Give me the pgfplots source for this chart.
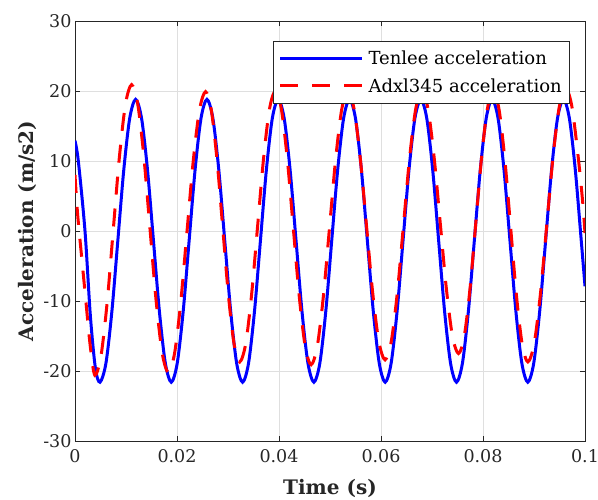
\documentclass[border=0pt]{standalone}
\usepackage{pgfplots}
\pgfplotsset{compat=1.18}
\usepackage{fontspec}
\setmainfont{DejaVu Serif}
\definecolor{axgray}{RGB}{38,38,38}
\definecolor{gridgray}{RGB}{223,223,223}
\begin{document}
\begin{tikzpicture}[x=1bp,y=1bp]
\useasboundingbox (0,0) rectangle (598,500);
\begin{axis}[
  at={(75bp,59bp)}, anchor=south west,
  scale only axis, width=510bp, height=420bp,
  xmin=0, xmax=0.1, ymin=-30, ymax=30,
  scaled x ticks=false, scaled y ticks=false,
  xtick={0,0.02,0.04,0.06,0.08,0.1},
  xticklabels={0,0.02,0.04,0.06,0.08,0.1},
  ytick={-30,-20,-10,0,10,20,30},
  yticklabels={-30,-20,-10,0,10,20,30},
  tick align=inside, tick pos=both,
  major tick length=5bp,
  tick style={axgray, line width=0.5bp},
  axis line style={axgray, line width=0.6bp},
  grid=major,
  major grid style={gridgray, line width=0.6bp},
  ticklabel style={font=\fontsize{17.5bp}{20bp}\selectfont, text=axgray},
  xticklabel style={yshift=-5bp},
  xlabel={Time (s)},
  ylabel={Acceleration (m/s2)},
  label style={font=\bfseries\fontsize{20bp}{24bp}\selectfont, text=axgray},
  xlabel style={at={(axis description cs:0.5,-0.112)}, anchor=center},
  ylabel style={at={(axis description cs:-0.094,0.5)}, anchor=center},
  legend style={at={(1,1)}, anchor=north east, xshift=-16bp, yshift=-20bp,
    draw=axgray, line width=0.5bp, fill=white,
    font=\fontsize{18bp}{21bp}\selectfont, text=black,
    inner xsep=5bp, inner ysep=8bp, row sep=8bp, column sep=3bp},
  legend cell align=left,
  legend image code/.code={\draw[#1] (0bp,0bp) -- (82bp,0bp);},
]
\addplot[blue, line width=3bp, smooth] coordinates {
(0,12.9) (0.00065,10.0) (0.00196,0.0) (0.0030,-12.0) (0.0040,-19.6) (0.0049,-21.6)
(0.006065,-18.89) (0.00723,-11.50) (0.008395,-1.40) (0.00956,8.70) (0.010725,16.09) (0.01189,18.8)
(0.013055,16.09) (0.01422,8.70) (0.015385,-1.40) (0.01655,-11.50) (0.017715,-18.89) (0.01888,-21.6)
(0.020045,-18.89) (0.02121,-11.50) (0.022375,-1.40) (0.02354,8.70) (0.024705,16.09) (0.02587,18.8)
(0.027035,16.09) (0.0282,8.70) (0.029365,-1.40) (0.03053,-11.50) (0.031695,-18.89) (0.03286,-21.6)
(0.034025,-18.89) (0.03519,-11.50) (0.036355,-1.40) (0.03752,8.70) (0.038685,16.09) (0.03985,18.8)
(0.041015,16.09) (0.04218,8.70) (0.043345,-1.40) (0.04451,-11.50) (0.045675,-18.89) (0.04684,-21.6)
(0.048005,-18.89) (0.04917,-11.50) (0.050335,-1.40) (0.0515,8.70) (0.052665,16.09) (0.05383,18.8)
(0.054995,16.09) (0.05616,8.70) (0.057325,-1.40) (0.05849,-11.50) (0.059655,-18.89) (0.06082,-21.6)
(0.061985,-18.89) (0.06315,-11.50) (0.064315,-1.40) (0.06548,8.70) (0.066645,16.09) (0.06781,18.8)
(0.068975,16.09) (0.07014,8.70) (0.071305,-1.40) (0.07247,-11.50) (0.073635,-18.89) (0.0748,-21.6)
(0.075965,-18.89) (0.07713,-11.50) (0.078295,-1.40) (0.07946,8.70) (0.080625,16.09) (0.08179,18.8)
(0.082955,16.09) (0.08412,8.70) (0.085285,-1.40) (0.08645,-11.50) (0.087615,-18.89) (0.08878,-21.6)
(0.089945,-18.89) (0.09111,-11.50) (0.092275,-1.40) (0.09344,8.70) (0.094605,16.09) (0.09577,18.8)
(0.096935,16.09) (0.0981,8.70) (0.099265,-1.40) (0.1,-7.9)
};
\addlegendentry{Tenlee acceleration}
\addplot[red, line width=3bp, smooth, dash pattern=on 18bp off 14bp] coordinates {
(0,8.0) (0.0005,2.5) (0.0013,-3.7) (0.0020,-9.0) (0.0030,-16.5) (0.0039,-20.6)
(0.0051,-17.82) (0.0063,-10.23) (0.0075,0.15) (0.0087,10.53) (0.0099,18.12) (0.0111,20.9)
(0.0123,18.15) (0.0135,10.63) (0.0147,0.35) (0.0159,-9.93) (0.0171,-17.45) (0.0183,-20.2)
(0.019517,-17.51) (0.020733,-10.18) (0.02195,-0.15) (0.023167,9.88) (0.024383,17.21) (0.0256,19.9)
(0.026717,17.31) (0.027833,10.25) (0.02895,0.6) (0.030067,-9.05) (0.031183,-16.11) (0.0323,-18.7)
(0.033467,-16.11) (0.034633,-9.03) (0.0358,0.65) (0.036967,10.33) (0.038133,17.41) (0.0393,20.0)
(0.040467,17.38) (0.041633,10.23) (0.0428,0.45) (0.043967,-9.33) (0.045133,-16.48) (0.0463,-19.1)
(0.0475,-16.48) (0.0487,-9.33) (0.0499,0.45) (0.0511,10.23) (0.0523,17.38) (0.0535,20.0)
(0.054717,17.43) (0.055933,10.4) (0.05715,0.8) (0.058367,-8.8) (0.059583,-15.83) (0.0608,-18.4)
(0.062,-15.83) (0.0632,-8.8) (0.0644,0.8) (0.0656,10.4) (0.0668,17.43) (0.068,20.0)
(0.0692,17.49) (0.0704,10.63) (0.0716,1.25) (0.0728,-8.13) (0.074,-14.99) (0.0752,-17.5)
(0.076333,-14.99) (0.077467,-8.13) (0.0786,1.25) (0.079733,10.63) (0.080867,17.49) (0.082,20.0)
(0.083133,17.41) (0.084267,10.33) (0.0854,0.65) (0.086533,-9.03) (0.087667,-16.11) (0.0888,-18.7)
(0.090033,-16.08) (0.091267,-8.93) (0.0925,0.85) (0.093733,10.63) (0.094967,17.78) (0.0962,20.4)
(0.0974,17.9) (0.0986,11.0) (0.0995,4.5) (0.1,-0.3)
};
\addlegendentry{Adxl345 acceleration}
\end{axis}
\end{tikzpicture}
\end{document}
